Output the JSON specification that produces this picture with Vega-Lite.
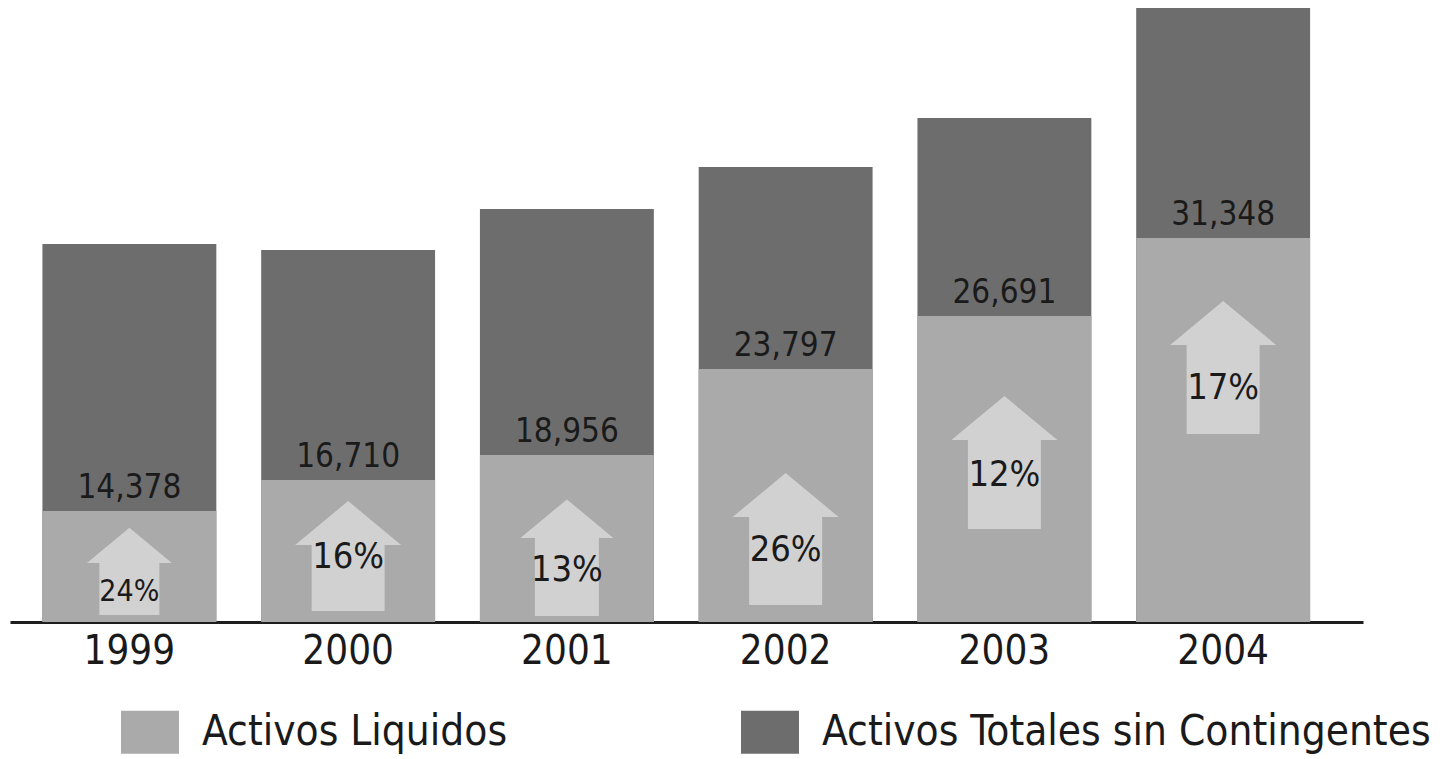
{
  "$schema": "https://vega.github.io/schema/vega-lite/v6.json",
  "autosize": {"type": "none"},
  "padding": {"left": 10, "top": 0, "right": 80, "bottom": 137},
  "width": 1353,
  "height": 622,
  "background": "white",
  "config": {
    "view": {"stroke": null},
    "font": "DejaVu Sans Condensed, Liberation Sans"
  },
  "data": {
    "values": [
      {"year": "1999", "total": 378, "liquidos": 111, "valor": "14,378", "crecimiento": "24%", "flecha_base": 7, "flecha_punta": 59, "pct_y": 30},
      {"year": "2000", "total": 372, "liquidos": 142, "valor": "16,710", "crecimiento": "16%", "flecha_base": 11, "flecha_punta": 77, "pct_y": 65},
      {"year": "2001", "total": 413, "liquidos": 167, "valor": "18,956", "crecimiento": "13%", "flecha_base": 6, "flecha_punta": 84, "pct_y": 52},
      {"year": "2002", "total": 455, "liquidos": 253, "valor": "23,797", "crecimiento": "26%", "flecha_base": 17, "flecha_punta": 105, "pct_y": 72},
      {"year": "2003", "total": 504, "liquidos": 306, "valor": "26,691", "crecimiento": "12%", "flecha_base": 93, "flecha_punta": 182, "pct_y": 147},
      {"year": "2004", "total": 614, "liquidos": 384, "valor": "31,348", "crecimiento": "17%", "flecha_base": 188, "flecha_punta": 277, "pct_y": 234}
    ]
  },
  "encoding": {
    "x": {
      "field": "year",
      "type": "ordinal",
      "scale": {"paddingInner": 0.205, "paddingOuter": 0.195, "align": 0.38},
      "axis": {
        "title": null,
        "labelAngle": 0,
        "ticks": false,
        "domain": true,
        "domainColor": "#1e1e1e",
        "domainWidth": 3,
        "labelFont": "DejaVu Sans Condensed, Liberation Sans",
        "labelFontSize": 40,
        "labelColor": "#1a1a1a",
        "labelPadding": 9,
        "grid": false
      }
    }
  },
  "layer": [
    {
      "mark": {"type": "bar", "stroke": null},
      "encoding": {
        "y": {"field": "total", "type": "quantitative", "scale": {"domain": [0, 622], "nice": false, "zero": true}, "axis": null},
        "color": {
          "datum": "Activos Totales sin Contingentes",
          "type": "nominal",
          "scale": {"domain": ["Activos Liquidos", "Activos Totales sin Contingentes"], "range": ["#aaaaaa", "#6d6d6d"]},
          "legend": {
            "orient": "none",
            "legendX": 111,
            "legendY": 703,
            "direction": "horizontal",
            "columns": 2,
            "title": null,
            "padding": 0,
            "symbolType": "M-1,-0.74L1,-0.74L1,0.74L-1,0.74Z",
            "symbolSize": 3364,
            "symbolStrokeWidth": 0,
            "symbolOpacity": 1,
            "labelFont": "DejaVu Sans Condensed, Liberation Sans",
            "labelFontSize": 42,
            "labelColor": "#1a1a1a",
            "labelOffset": 23,
            "labelLimit": 0,
            "columnPadding": 233
          }
        }
      }
    },
    {
      "mark": {"type": "bar", "stroke": null},
      "encoding": {
        "y": {"field": "liquidos", "type": "quantitative"},
        "color": {"datum": "Activos Liquidos", "type": "nominal"}
      }
    },
    {
      "mark": {"type": "text", "baseline": "alphabetic", "dy": -13, "fontSize": 33, "color": "#1a1a1a", "font": "DejaVu Sans Condensed, Liberation Sans"},
      "encoding": {
        "y": {"field": "liquidos", "type": "quantitative"},
        "text": {"field": "valor", "type": "nominal"}
      }
    },
    {
      "mark": {"type": "bar", "color": "#d1d1d1", "stroke": null},
      "encoding": {
        "y": {"field": "flecha_base", "type": "quantitative"},
        "y2": {"field": "flecha_punta"},
        "size": {
          "condition": [
            {"test": "datum.year == '1999'", "value": 60},
            {"test": "datum.year == '2001'", "value": 64}
          ],
          "value": 73
        }
      }
    },
    {
      "mark": {"type": "point", "shape": "M-1,0L0,-0.83L1,0Z", "filled": true, "opacity": 1, "color": "#d1d1d1", "strokeWidth": 0},
      "encoding": {
        "y": {"field": "flecha_punta", "type": "quantitative"},
        "size": {
          "condition": [
            {"test": "datum.year == '1999'", "value": 7225},
            {"test": "datum.year == '2001'", "value": 8649}
          ],
          "value": 11236
        }
      }
    },
    {
      "mark": {"type": "text", "baseline": "middle", "color": "#1a1a1a", "font": "DejaVu Sans Condensed, Liberation Sans"},
      "encoding": {
        "y": {"field": "pct_y", "type": "quantitative"},
        "text": {"field": "crecimiento", "type": "nominal"},
        "size": {
          "condition": {"test": "datum.year == '1999'", "value": 30},
          "value": 36
        }
      }
    }
  ]
}
